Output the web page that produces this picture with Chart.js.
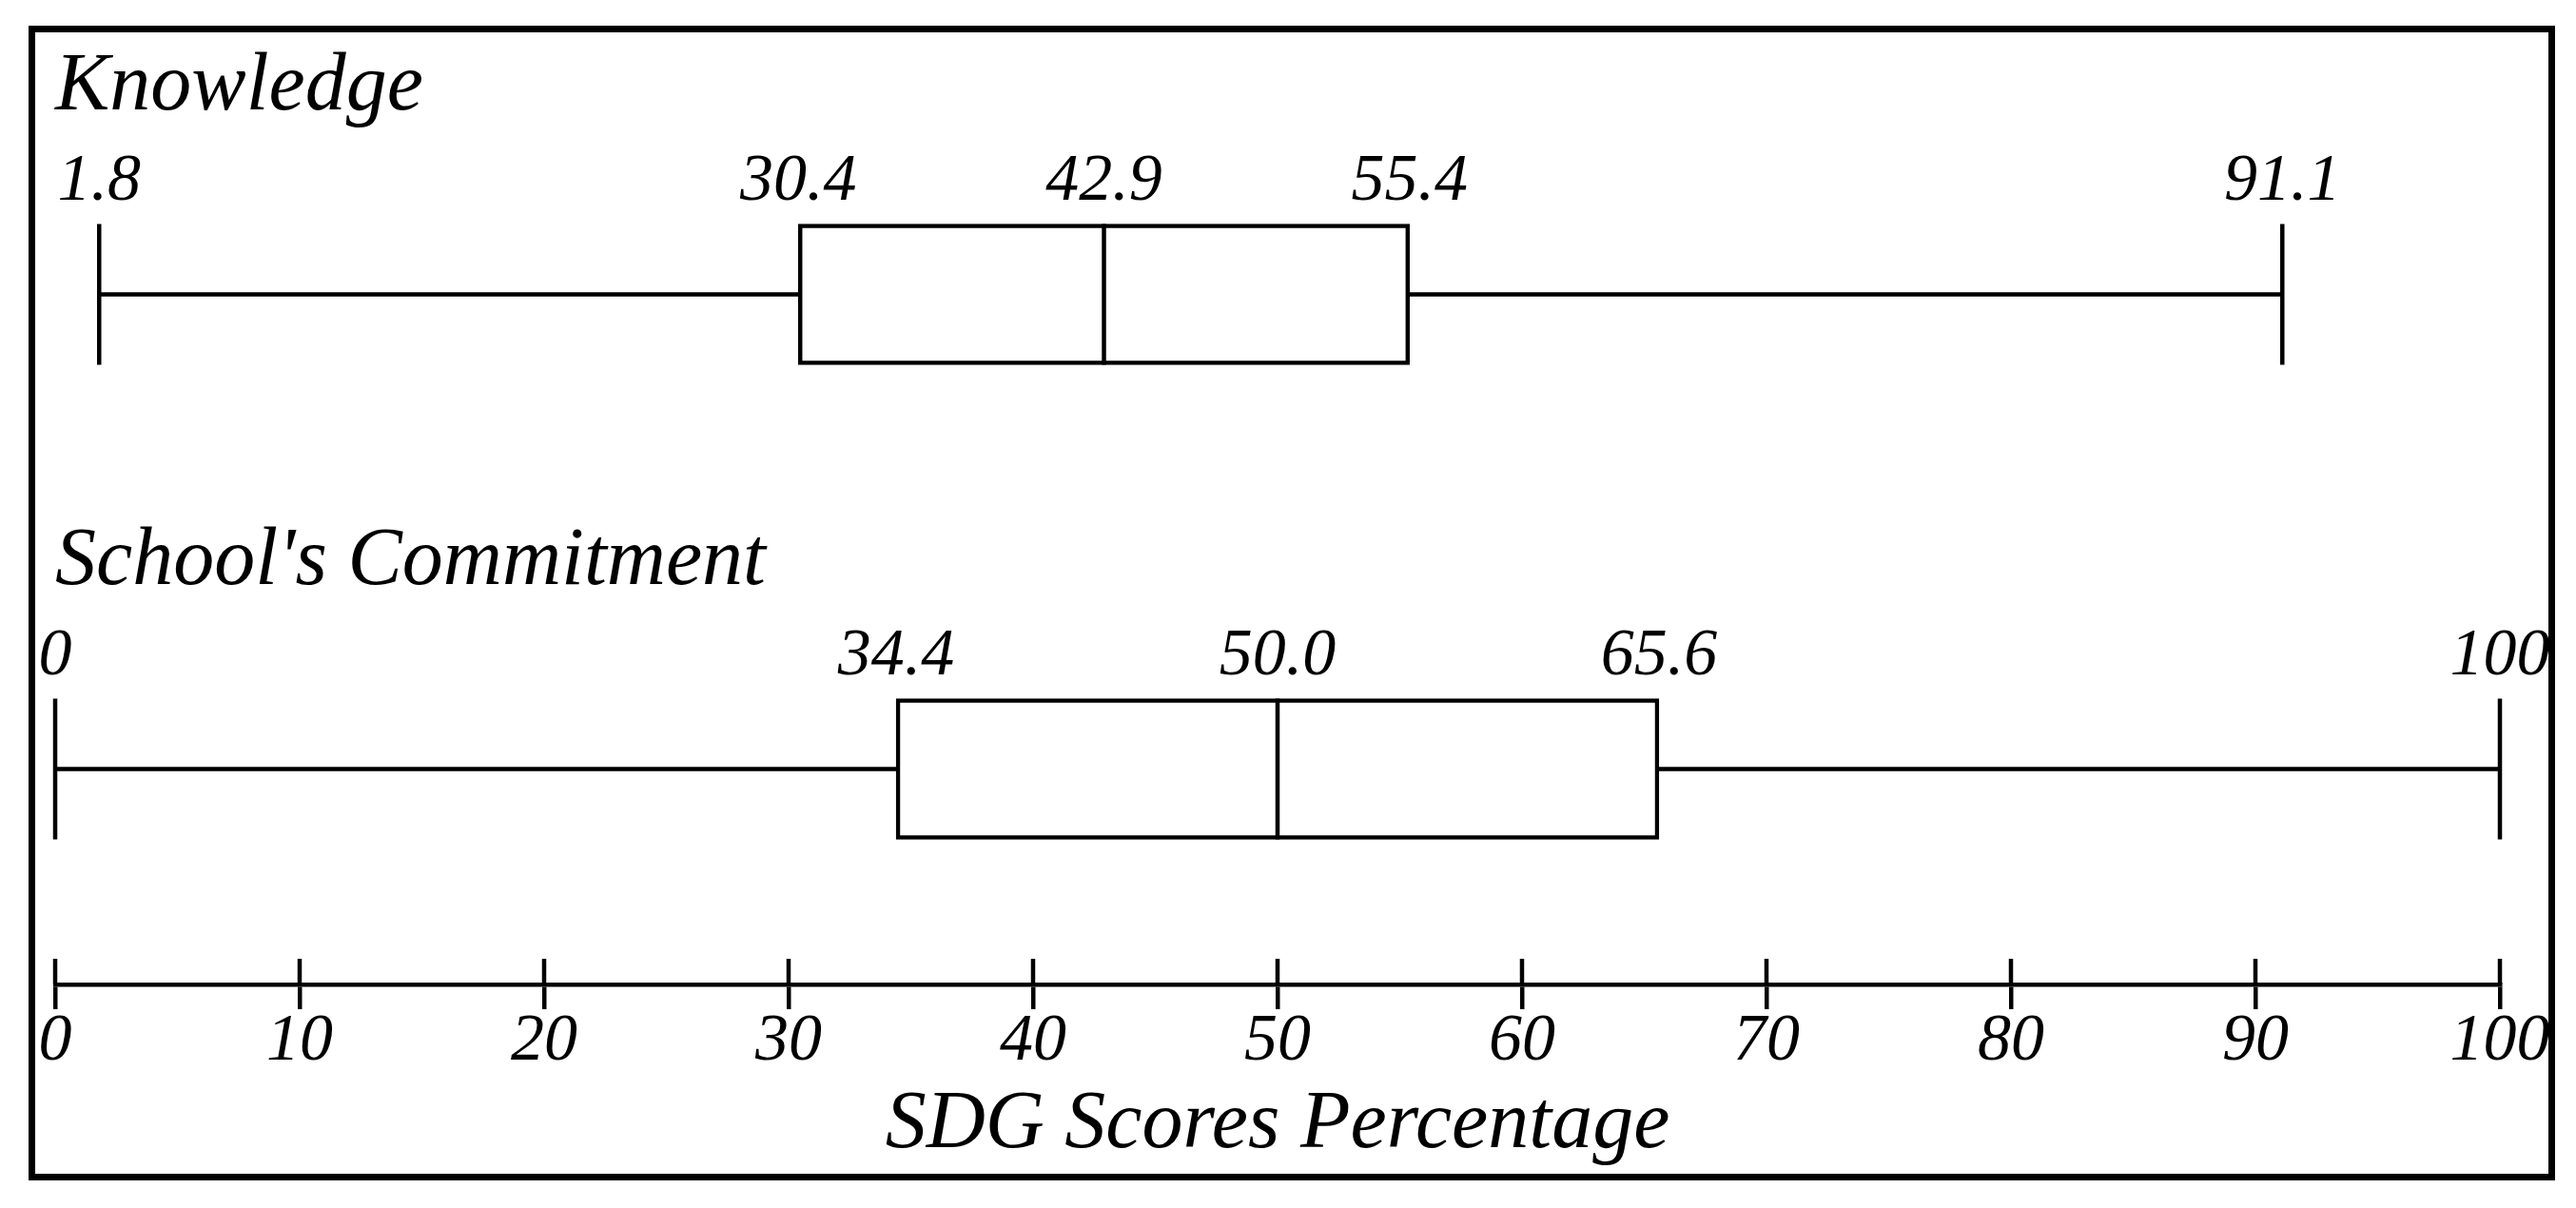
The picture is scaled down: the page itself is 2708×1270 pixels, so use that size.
<!DOCTYPE html>
<html>
<head>
<meta charset="utf-8">
<title>SDG Scores Percentage</title>
<script src="https://cdn.jsdelivr.net/npm/chart.js@4.4.0/dist/chart.umd.min.js"></script>
<style>
    html, body { margin: 0; padding: 0; background: #fff; }
    .chart-wrap { position: relative; width: 2708px; height: 1270px; }
    .frame {
        position: absolute;
        left: 30px; top: 27px;
        width: 2656px; height: 1214px;
        box-sizing: border-box;
        border: 7px solid #000;
        pointer-events: none;
    }
</style>
</head>
<body>
<div class="chart-wrap">
    <canvas id="sdg-chart" width="2708" height="1270"></canvas>
    <div class="frame"></div>
</div>
<script>
// Chart data
const categories = ['Knowledge', "School's Commitment"];
const minValues = [1.8, 0];
const q1Values = [30.4, 34.4];
const medianValues = [42.9, 50.0];
const q3Values = [55.4, 65.6];
const maxValues = [91.1, 100];
const statLabels = [
    ['1.8', '30.4', '42.9', '55.4', '91.1'],
    ['0', '34.4', '50.0', '65.6', '100']
];
const tickValues = [0, 10, 20, 30, 40, 50, 60, 70, 80, 90, 100];
const axisTitle = 'SDG Scores Percentage';

// Look
const FONT_FAMILY = '"Liberation Serif", "Times New Roman", serif';
const LINE_WIDTH = 4.5;

Chart.defaults.font.family = FONT_FAMILY;
Chart.defaults.color = '#000';

// Whiskers, medians, value labels and group titles
const boxPlotParts = {
    id: 'boxPlotParts',
    afterDatasetsDraw(chart) {
        const ctx = chart.ctx;
        const xScale = chart.scales.x;
        const area = chart.chartArea;
        const bars = chart.getDatasetMeta(0).data;

        ctx.save();
        ctx.strokeStyle = '#000';
        ctx.fillStyle = '#000';
        ctx.lineWidth = LINE_WIDTH;
        ctx.lineCap = 'butt';

        const line = (x1, y1, x2, y2) => {
            ctx.beginPath();
            ctx.moveTo(x1, y1);
            ctx.lineTo(x2, y2);
            ctx.stroke();
        };

        categories.forEach((name, i) => {
            const bar = bars[i];
            const cy = bar.y;
            const top = cy - bar.height / 2;
            const bottom = cy + bar.height / 2;
            const stats = [minValues[i], q1Values[i], medianValues[i], q3Values[i], maxValues[i]];
            const px = stats.map(v => xScale.getPixelForValue(v));

            // whiskers
            line(px[0], cy, px[1], cy);
            line(px[3], cy, px[4], cy);
            // whisker caps
            line(px[0], top, px[0], bottom);
            line(px[4], top, px[4], bottom);
            // median
            line(px[2], top, px[2], bottom);

            // value labels
            ctx.font = 'italic 70px ' + FONT_FAMILY;
            ctx.textAlign = 'center';
            ctx.textBaseline = 'alphabetic';
            statLabels[i].forEach((text, j) => ctx.fillText(text, px[j], top - 25.5));

            // group title
            ctx.font = 'italic 86px ' + FONT_FAMILY;
            ctx.textAlign = 'left';
            ctx.fillText(name, area.left, top - 120.5);
        });

        // upper half of the axis ticks
        xScale.ticks.forEach(t => {
            const x = xScale.getPixelForValue(t.value);
            line(x, area.bottom, x, area.bottom - 27);
        });

        ctx.restore();
    }
};

// Build chart
const ctx = document.getElementById('sdg-chart').getContext('2d');
new Chart(ctx, {
    type: 'bar',
    data: {
        datasets: [{
            data: categories.map((c, i) => ({ x: [q1Values[i], q3Values[i]], y: i })),
            backgroundColor: '#fff',
            borderColor: '#000',
            borderWidth: LINE_WIDTH,
            borderSkipped: false,
            barThickness: 148
        }]
    },
    options: {
        indexAxis: 'y',
        responsive: false,
        animation: false,
        events: [],
        layout: {
            padding: { left: 58, right: 80, top: 60, bottom: 44 }
        },
        scales: {
            y: {
                type: 'linear',
                display: false,
                offset: false,
                reverse: true,
                min: -0.5,
                max: 1.454
            },
            x: {
                type: 'linear',
                min: 0,
                max: 100,
                afterBuildTicks: scale => {
                    scale.ticks = tickValues.map(v => ({ value: v }));
                },
                border: { display: true, color: '#000', width: LINE_WIDTH },
                grid: {
                    drawOnChartArea: false,
                    drawTicks: true,
                    tickLength: 26,
                    color: '#000',
                    lineWidth: LINE_WIDTH
                },
                ticks: {
                    color: '#000',
                    padding: 0,
                    maxRotation: 0,
                    autoSkip: false,
                    font: { family: FONT_FAMILY, size: 70, style: 'italic', lineHeight: 1 }
                },
                title: {
                    display: true,
                    text: axisTitle,
                    color: '#000',
                    font: { family: FONT_FAMILY, size: 86, style: 'italic', lineHeight: 1 },
                    padding: { top: 9, bottom: 0 }
                }
            }
        },
        plugins: {
            legend: { display: false },
            tooltip: { enabled: false },
            title: { display: false }
        }
    },
    plugins: [boxPlotParts]
});
</script>
</body>
</html>
